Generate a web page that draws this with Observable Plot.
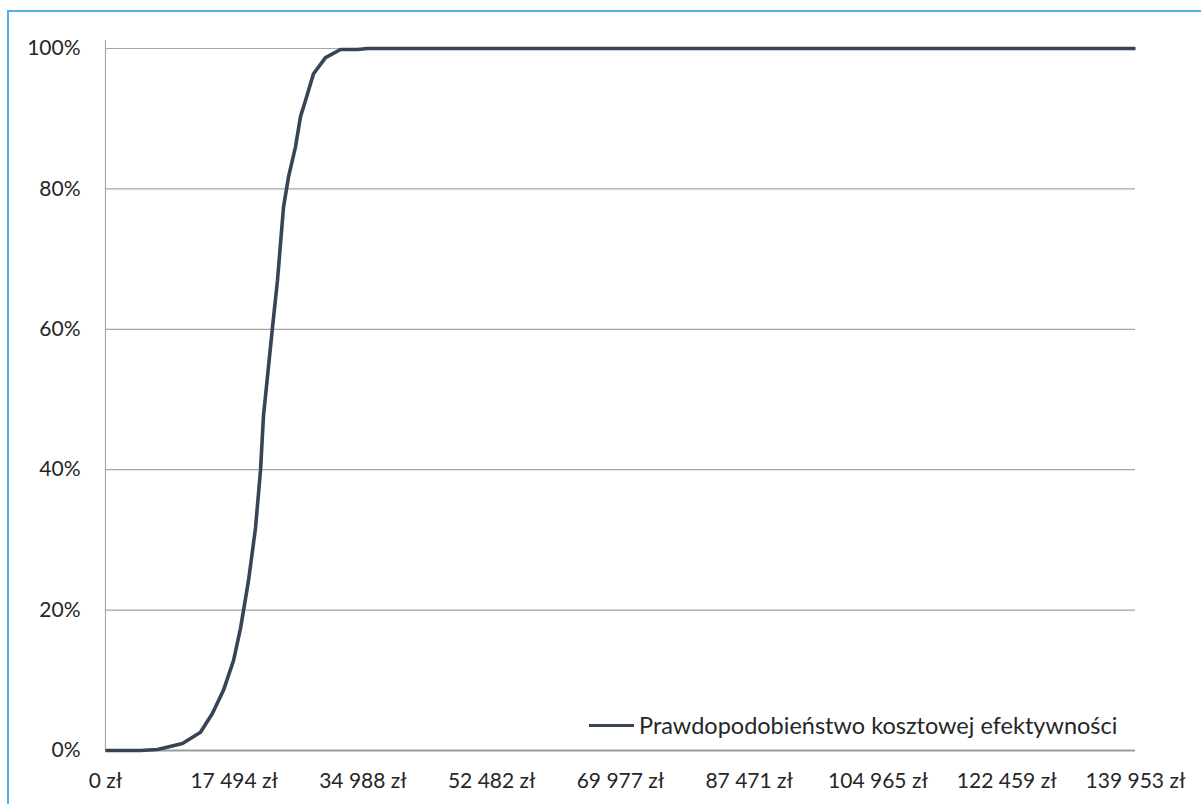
<!DOCTYPE html>
<html lang="pl">
<head>
<meta charset="utf-8">
<title>Prawdopodobieństwo kosztowej efektywności</title>
<script src="https://cdn.jsdelivr.net/npm/d3@7"></script>
<script src="https://cdn.jsdelivr.net/npm/@observablehq/plot@0.6"></script>
<style>
  html, body { margin: 0; padding: 0; background: #ffffff; overflow: hidden; }
  #wrap { position: relative; width: 1201px; height: 804px; overflow: hidden; }
  #border {
    position: absolute; left: 7px; top: 10px; width: 1300px; height: 900px;
    border-left: 2px solid #56b0e3; border-top: 2px solid #56b0e3;
    pointer-events: none;
  }
  #legend {
    position: absolute; left: 589px; top: 711px; height: 28px;
    display: flex; align-items: center;
    font-family: Lato, "Open Sans", sans-serif; font-size: 23.5px; color: #262626;
  }
  #legend .swatch { width: 45px; height: 0; border-top: 3.5px solid #364456; margin-right: 5px; }
  #chart svg { display: block; }
</style>
</head>
<body>
<div id="wrap">
  <div id="chart"></div>
  <div id="border"></div>
  <div id="legend"><span class="swatch"></span><span id="legend-label"></span></div>
</div>
<script>
// Willingness-to-pay threshold (zł) and probability that the intervention is cost-effective
const thresholds = [0, 4756, 7066, 10463, 12909, 14539, 16034, 17393, 18344, 19431, 20382,
  21062, 21469, 22692, 23371, 24187, 24866, 25817, 26497, 27176, 28263, 29894,
  31932, 34242, 35601, 139953];
const probabilities = [0, 0, 0.0014, 0.010, 0.026, 0.053, 0.086, 0.128, 0.174, 0.242, 0.317,
  0.399, 0.477, 0.603, 0.670, 0.774, 0.817, 0.860, 0.903, 0.926, 0.964, 0.987,
  0.9986, 0.9986, 1.0, 1.0];

// Axis ticks
const xTicks = [0, 17494, 34988, 52482, 69977, 87471, 104965, 122459, 139953];
const yTicks = [0, 0.2, 0.4, 0.6, 0.8, 1.0];

const seriesName = "Prawdopodobieństwo kosztowej efektywności";
const lineColor = "#364456";

const rows = thresholds.map((x, i) => ({x, p: probabilities[i]}));

const zl = d => d3.format(",")(d).replace(/,/g, " ") + " zł";

const chart = Plot.plot({
  width: 1201,
  height: 804,
  marginLeft: 105,
  marginRight: 66,
  marginTop: 40,
  marginBottom: 54,
  style: {fontFamily: "Lato, 'Open Sans', sans-serif", fontSize: "21px", color: "#262626", background: "transparent"},
  x: {domain: [0, 139953], ticks: xTicks, tickFormat: zl, tickSize: 0, tickPadding: 23, label: null},
  y: {domain: [0, 1.0114], ticks: yTicks, tickFormat: d => Math.round(d * 100) + "%", tickSize: 0, tickPadding: 25, label: null},
  marks: [
    Plot.gridY(yTicks, {stroke: "#a6a6a6", strokeOpacity: 1, strokeWidth: 1.2}),
    Plot.frame({anchor: "left", stroke: "#a6a6a6", strokeWidth: 1.2}),
    Plot.ruleY([0], {stroke: "#9c9c9c", strokeWidth: 2}),
    Plot.line(rows, {x: "x", y: "p", stroke: lineColor, strokeWidth: 3.6, strokeLinejoin: "round", strokeLinecap: "butt"})
  ]
});

document.getElementById("chart").appendChild(chart);
document.getElementById("legend-label").textContent = seriesName;
</script>
</body>
</html>
